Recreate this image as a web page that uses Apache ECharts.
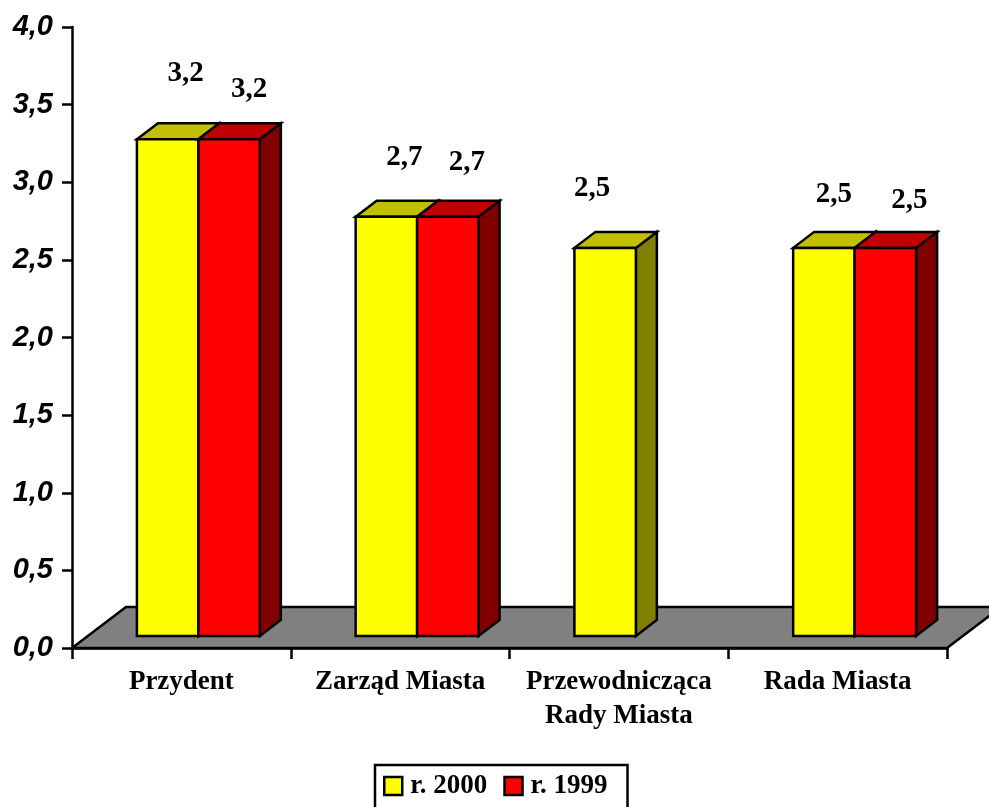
<!DOCTYPE html>
<html><head><meta charset="utf-8">
<script src="https://cdn.jsdelivr.net/npm/echarts/dist/echarts.min.js"></script>
<style>html,body{margin:0;padding:0;background:#fff}#c{width:989px;height:807px}</style>
</head><body><div id="c"></div>
<script>
// ---- data ----
const categories = ['Przydent', 'Zarząd Miasta', 'Przewodnicząca\nRady Miasta', 'Rada Miasta'];
const seriesNames = ['r. 2000', 'r. 1999'];
const values2000 = [3.2, 2.7, 2.5, 2.5];
const values1999 = [3.2, 2.7, null, 2.5];
const yMin = 0, yMax = 4, yStep = 0.5;

// ---- layout / style (not data) ----
const FRONT_DX = 17, FRONT_DY = -12;   // bar front face shift into depth
const DEPTH_DX = 21, DEPTH_DY = -16;   // bar depth
const FLOOR_DX = 54, FLOOR_DY = -41;   // floor depth
const BAR_FRAC = 0.281;
const labelOffsets2000 = [[18, -66], [18, -59], [-13, -59], [10, -53]];
const labelOffsets1999 = [[20, -50], [19, -54], [0, -50], [24, -47]];
const styles = [
  { front: '#FFFF00', top: '#C0C000', side: '#808000' },
  { front: '#FF0000', top: '#C00000', side: '#800000' }
];
const fmt = v => v.toFixed(1).replace('.', ',');
const SERIF = '"Liberation Serif", "Times New Roman", serif';

function barRender(sIdx, offsets) {
  return function (params, api) {
    const cat = api.value(0), v = api.value(1);
    if (v == null || isNaN(v)) return null;
    const base = api.coord([cat, 0]);
    const top = api.coord([cat, v]);
    const bw = api.size([1, 0])[0] * BAR_FRAC;
    const x0 = base[0] + FRONT_DX + (sIdx === 0 ? -bw : 0);
    const x1 = x0 + bw;
    const yb = base[1] + FRONT_DY;
    const yt = top[1] + FRONT_DY;
    const st = styles[sIdx];
    const line = { stroke: '#000', lineWidth: 2.5, lineJoin: 'miter' };
    const off = offsets[params.dataIndex];
    return {
      type: 'group',
      children: [
        { type: 'polygon', shape: { points: [[x1, yt], [x1 + DEPTH_DX, yt + DEPTH_DY], [x1 + DEPTH_DX, yb + DEPTH_DY], [x1, yb]] },
          style: Object.assign({ fill: st.side }, line) },
        { type: 'polygon', shape: { points: [[x0, yt], [x1, yt], [x1 + DEPTH_DX, yt + DEPTH_DY], [x0 + DEPTH_DX, yt + DEPTH_DY]] },
          style: Object.assign({ fill: st.top }, line) },
        { type: 'rect', shape: { x: x0, y: yt, width: bw, height: yb - yt },
          style: Object.assign({ fill: st.front }, line) },
        { type: 'text', style: { x: (x0 + x1) / 2 + off[0], y: yt + off[1], text: fmt(v),
            fill: '#000', font: 'bold 29px ' + SERIF,
            align: 'center', verticalAlign: 'middle', textAlign: 'center', textVerticalAlign: 'middle' } }
      ]
    };
  };
}

function floorRender(params, api) {
  const cs = params.coordSys;
  const x = cs.x, y = cs.y + cs.height, w = cs.width;
  return {
    type: 'polygon',
    shape: { points: [[x, y], [x + w, y], [x + w + FLOOR_DX, y + FLOOR_DY], [x + FLOOR_DX, y + FLOOR_DY]] },
    style: { fill: '#808080', stroke: '#000', lineWidth: 2.5 }
  };
}

const chart = echarts.init(document.getElementById('c'), null, { renderer: 'canvas' });
chart.setOption({
  animation: false,
  backgroundColor: '#fff',
  grid: { left: 72, right: 42, top: 27, bottom: 159, containLabel: false },
  xAxis: {
    type: 'category', data: categories, boundaryGap: true,
    axisLine: { lineStyle: { color: '#000', width: 2.5 } },
    axisTick: { show: true, length: 11, lineStyle: { color: '#000', width: 2.5 } },
    axisLabel: { interval: 0, margin: 17, color: '#000', fontFamily: SERIF,
      fontWeight: 'bold', fontSize: 27, lineHeight: 34 },
    splitLine: { show: false }
  },
  yAxis: {
    type: 'value', min: yMin, max: yMax, interval: yStep,
    axisLine: { show: true, lineStyle: { color: '#000', width: 2.5 } },
    axisTick: { show: true, length: 10, lineStyle: { color: '#000', width: 2.5 } },
    axisLabel: { margin: 19, color: '#000', fontFamily: '"Liberation Sans", Arial, sans-serif',
      fontWeight: 'bold', fontStyle: 'italic', fontSize: 29, formatter: fmt },
    splitLine: { show: false }
  },
  legend: {
    left: 375, top: 765, orient: 'horizontal', selectedMode: false,
    icon: 'rect', itemWidth: 18, itemHeight: 18, itemGap: 16,
    padding: [7, 20, 40, 8],
    borderColor: '#000', borderWidth: 2.5, backgroundColor: '#fff',
    textStyle: { color: '#000', fontFamily: SERIF, fontWeight: 'bold',
      fontSize: 27, lineHeight: 28, padding: [0, 0, 0, 3] },
    data: [
      { name: seriesNames[0], itemStyle: { color: styles[0].front, borderColor: '#000', borderWidth: 2.5 } },
      { name: seriesNames[1], itemStyle: { color: styles[1].front, borderColor: '#000', borderWidth: 2.5 } }
    ]
  },
  series: [
    { type: 'custom', name: 'floor', z: 1, silent: true, data: [[0, 0]], renderItem: floorRender },
    { type: 'custom', name: seriesNames[0], z: 3, data: values2000.map((v, i) => [i, v]),
      encode: { x: 0, y: 1 }, renderItem: barRender(0, labelOffsets2000),
      itemStyle: { color: styles[0].front, borderColor: '#000', borderWidth: 2.5 } },
    { type: 'custom', name: seriesNames[1], z: 4, data: values1999.map((v, i) => [i, v]),
      encode: { x: 0, y: 1 }, renderItem: barRender(1, labelOffsets1999),
      itemStyle: { color: styles[1].front, borderColor: '#000', borderWidth: 2.5 } }
  ]
});
</script>
</body></html>
